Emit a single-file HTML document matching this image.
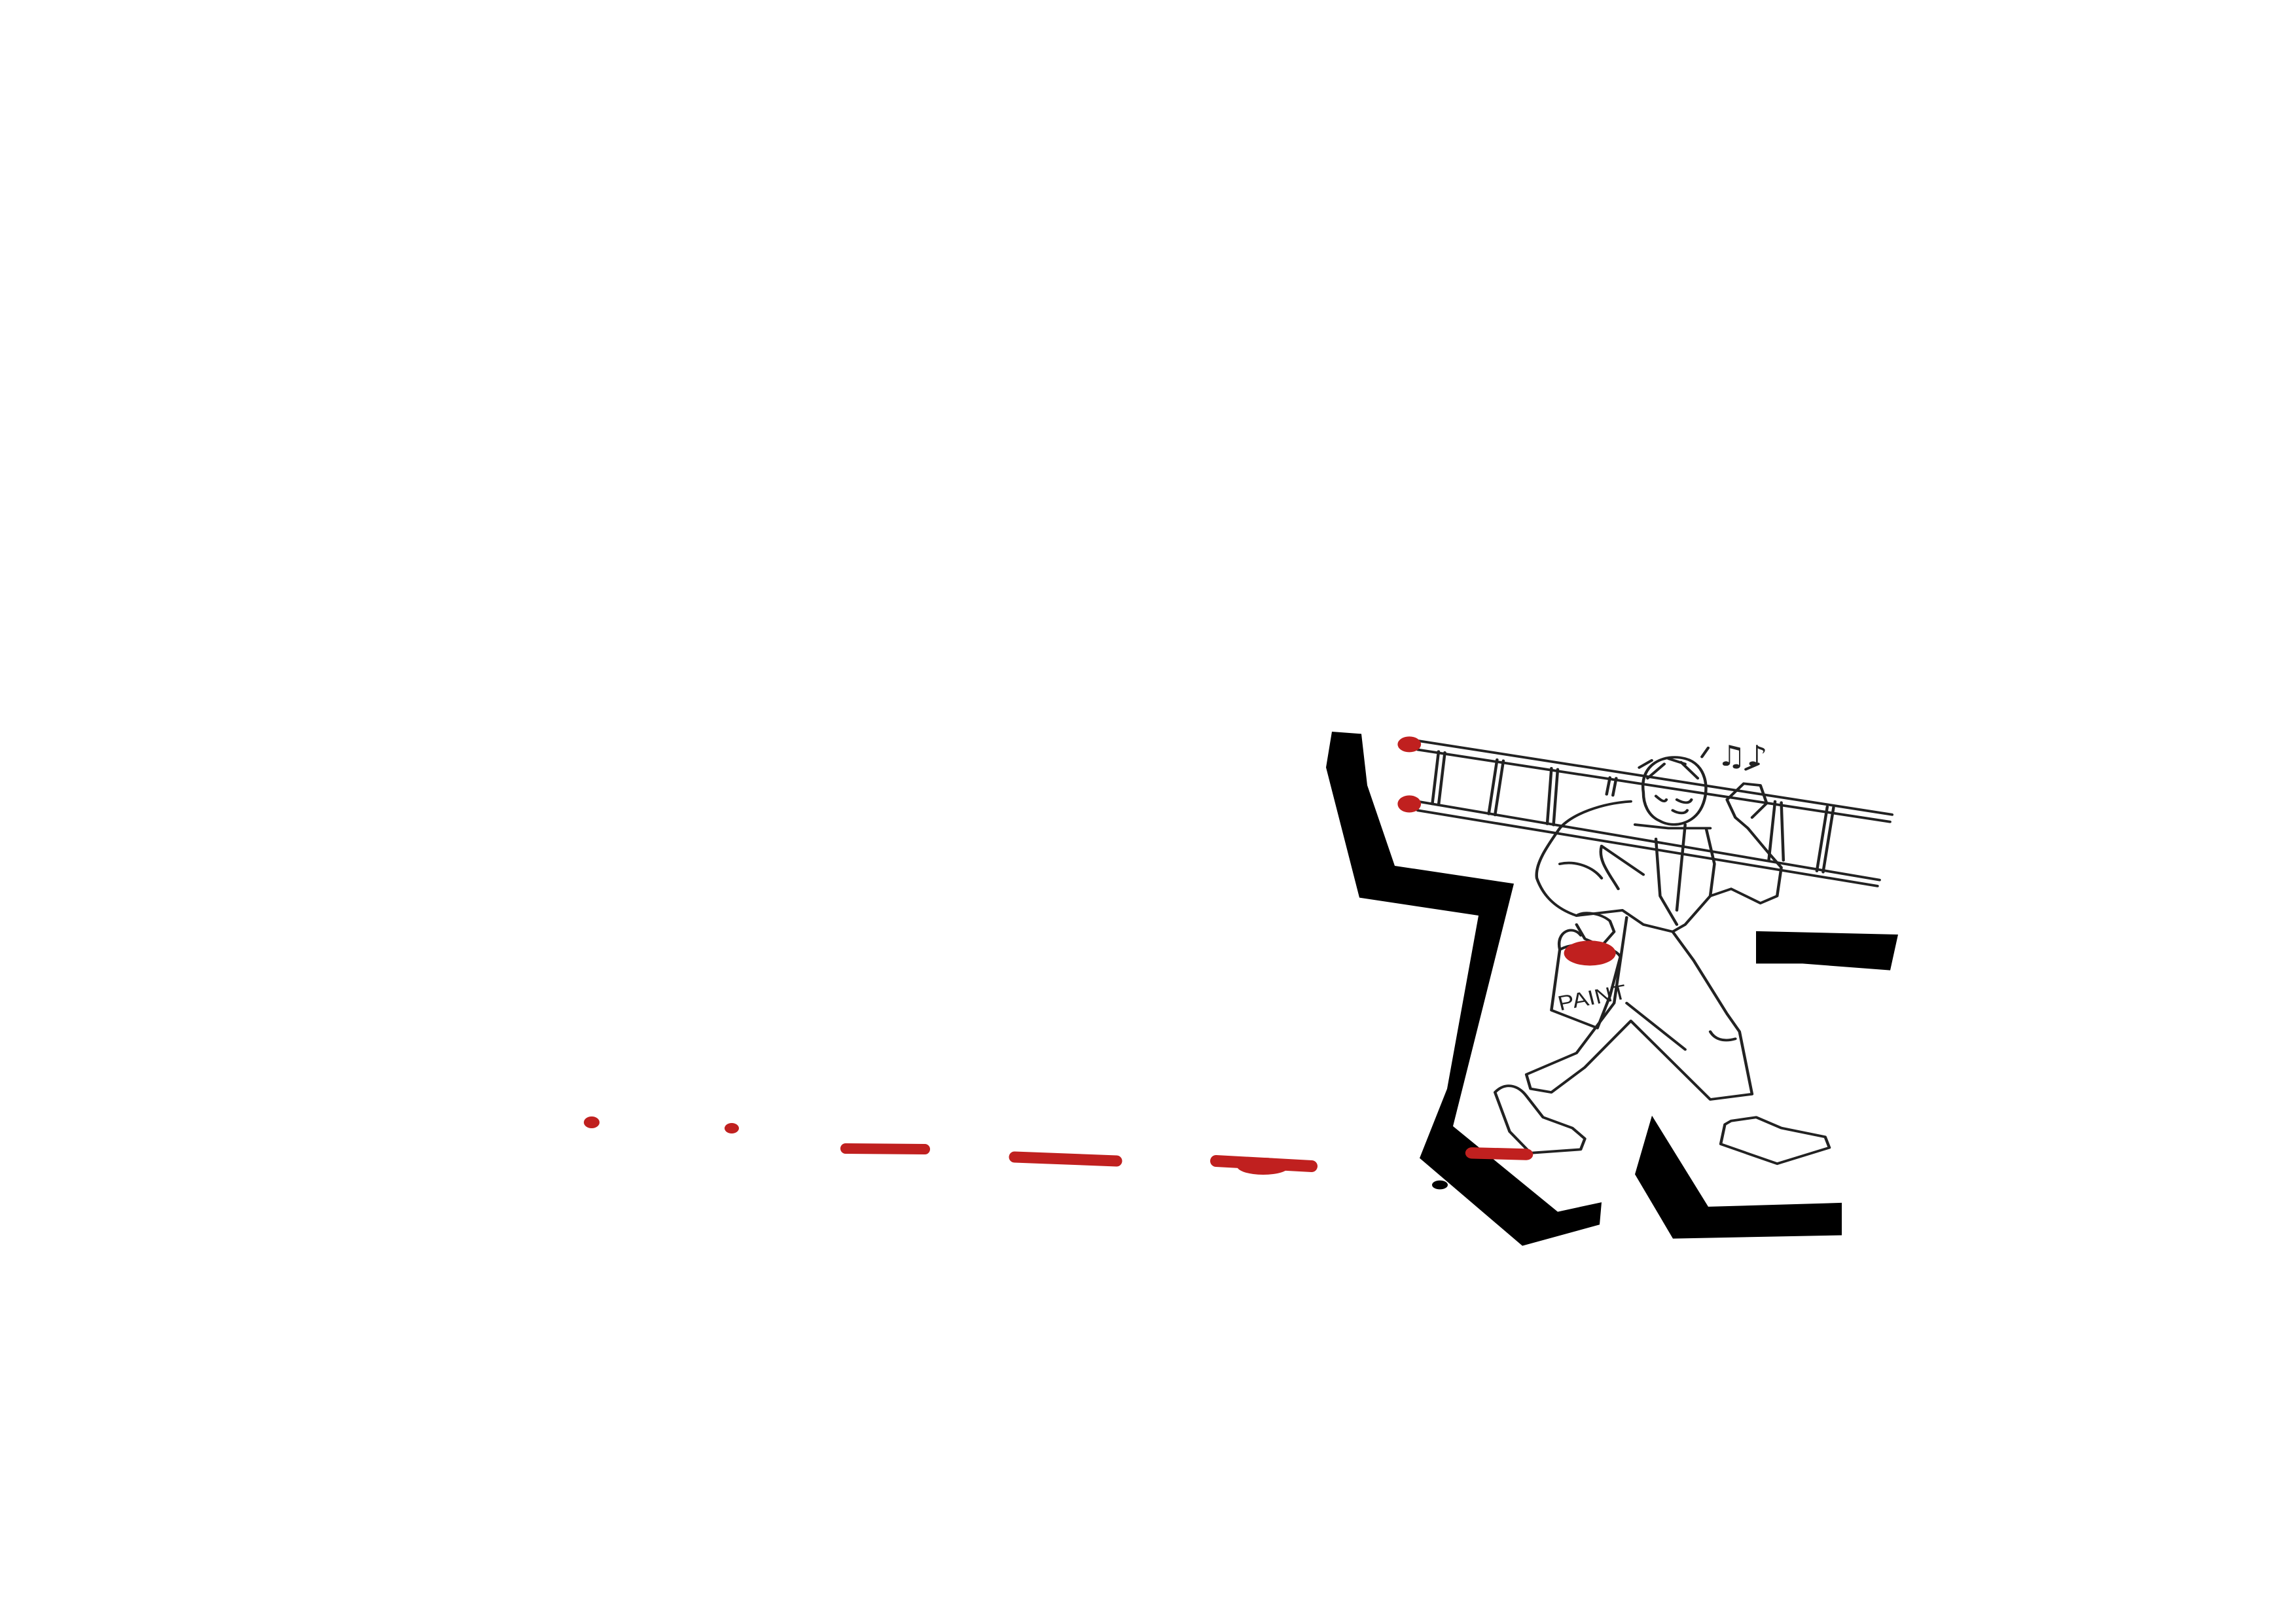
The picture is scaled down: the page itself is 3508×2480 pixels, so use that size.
<!DOCTYPE html>
<html><head><meta charset="utf-8"><style>
html,body{margin:0;padding:0;background:#fff;}
svg{display:block}
</style></head><body>
<svg width="3508" height="2480" viewBox="0 0 3508 2480" xmlns="http://www.w3.org/2000/svg">
<rect width="3508" height="2480" fill="#fff"/>
<!-- red trail -->
<g fill="#c0201f" stroke="#c0201f" stroke-linecap="round" transform="translate(0,-8)">
<ellipse cx="904" cy="1723" rx="12" ry="9" stroke="none"/>
<ellipse cx="1118" cy="1732" rx="11" ry="8" stroke="none"/>
<line x1="1292" y1="1763" x2="1413" y2="1764" stroke-width="16"/>
<line x1="1550" y1="1776" x2="1706" y2="1782" stroke-width="17"/>
<line x1="1858" y1="1782" x2="2004" y2="1790" stroke-width="18"/>
<ellipse cx="1930" cy="1790" rx="40" ry="13" stroke="none"/>
</g>
<g transform="translate(0,1118) scale(1,0.854) translate(0,-1118)">
<!-- black shapes -->
<g fill="#000">
<polygon points="2035,1118 2080,1122 2089,1214 2131,1358 2313,1390 2220,1824 2380,1977 2447,1960 2444,2000 2326,2038 2169,1881 2211,1757 2259,1447 2077,1415 2026,1182"/>
<ellipse cx="2200" cy="1929" rx="12" ry="8"/>
<polygon points="2524,1805 2610,1968 2814,1961 2814,2019 2556,2025 2498,1910"/>
<polygon points="2683,1475 2900,1481 2888,1545 2754,1533 2683,1533"/>
</g>
<g transform="translate(2000,1080) scale(0.6386)" fill="none" stroke="#222" stroke-width="7" stroke-linecap="round" stroke-linejoin="round">
<!-- ladder -->
<line x1="260" y1="85" x2="1395" y2="292"/>
<line x1="260" y1="110" x2="1390" y2="312"/>
<line x1="260" y1="255" x2="1365" y2="475"/>
<line x1="260" y1="280" x2="1360" y2="492"/>
<g>
<line x1="310" y1="115" x2="295" y2="262"/><line x1="325" y1="118" x2="310" y2="265"/>
<line x1="450" y1="138" x2="430" y2="290"/><line x1="465" y1="141" x2="445" y2="293"/>
<line x1="580" y1="162" x2="570" y2="318"/><line x1="595" y1="165" x2="585" y2="321"/>
<line x1="720" y1="188" x2="712" y2="235"/><line x1="735" y1="190" x2="727" y2="238"/>
<line x1="1115" y1="255" x2="1100" y2="420"/><line x1="1130" y1="258" x2="1135" y2="420"/>
<line x1="1240" y1="270" x2="1215" y2="450"/><line x1="1255" y1="272" x2="1230" y2="453"/>
</g>
<!-- head -->
<path d="M800,230 C790,150 850,120 900,135 C950,150 960,220 940,270 C920,320 870,330 840,310 C810,295 800,260 800,230"/>
<path d="M790,160 L820,140 M810,190 L850,150 M860,135 L900,150 M890,145 L930,190 M830,240 C840,250 850,260 855,250 M880,250 C895,260 910,262 915,250 M870,280 C885,290 900,290 905,280"/>
<path d="M940,130 L955,105 M1045,165 L1075,150"/>
<!-- torso / jacket -->
<path d="M770,255 C700,260 630,290 600,330 C570,380 540,430 545,470 C560,520 590,555 640,575 L750,560 L800,600 L870,620 L900,600 L960,520 L1010,500 L1080,540 L1120,520 L1130,440 L1100,400 L1050,330 L1020,300 L1000,250 L1040,205 L1080,210 L1095,260 L1060,300"/>
<path d="M700,380 L800,460 M830,360 L840,520 L880,600 M900,320 L880,560 M950,330 L970,430 L960,520 M780,320 L860,330 L960,330"/>
<path d="M700,380 C690,420 720,460 740,500 M600,430 C640,420 680,440 700,470"/>
<!-- arm to bucket -->
<path d="M640,575 C660,560 700,570 720,590 L730,620 L700,660 L660,640 L640,600"/>
<!-- paint bucket -->
<path d="M600,670 C590,620 630,600 650,630 M600,670 L580,840 L690,890 L720,800 L745,690 C730,660 650,640 600,670"/>
<!-- pants -->
<path d="M760,580 L730,820 L640,960 L520,1020 L530,1060 L580,1070 L660,1000 L770,870 L960,1090 L1060,1075 L1030,900 L1000,850 L920,700 L870,620"/>
<path d="M760,820 L900,950 M960,900 C970,920 990,930 1020,920"/>
<!-- shoes -->
<path d="M445,1070 C470,1040 500,1050 520,1080 L560,1140 L630,1170 L660,1200 L650,1230 L530,1240 L480,1180 Z"/>
<path d="M995,1160 L985,1215 L1120,1270 L1245,1225 L1235,1195 L1130,1170 L1070,1140 L1010,1150 Z"/>
</g>
<g transform="translate(2000,1080) scale(0.6386)">
<ellipse cx="672" cy="680" rx="62" ry="35" fill="#c0201f"/>
<ellipse cx="240" cy="95" rx="28" ry="22" fill="#c0201f"/>
<ellipse cx="240" cy="262" rx="28" ry="24" fill="#c0201f"/>
<line x1="390" y1="1240" x2="520" y2="1244" stroke="#c0201f" stroke-width="32" stroke-linecap="round"/>
<text x="595" y="830" font-family="Liberation Sans, sans-serif" font-size="58" transform="rotate(-12 650 810)" fill="#222">PAINT</text>
<text x="975" y="155" font-family="DejaVu Sans, sans-serif" font-size="80" fill="#222">♫♪</text>
</g>
</g>
</svg>
</body></html>
